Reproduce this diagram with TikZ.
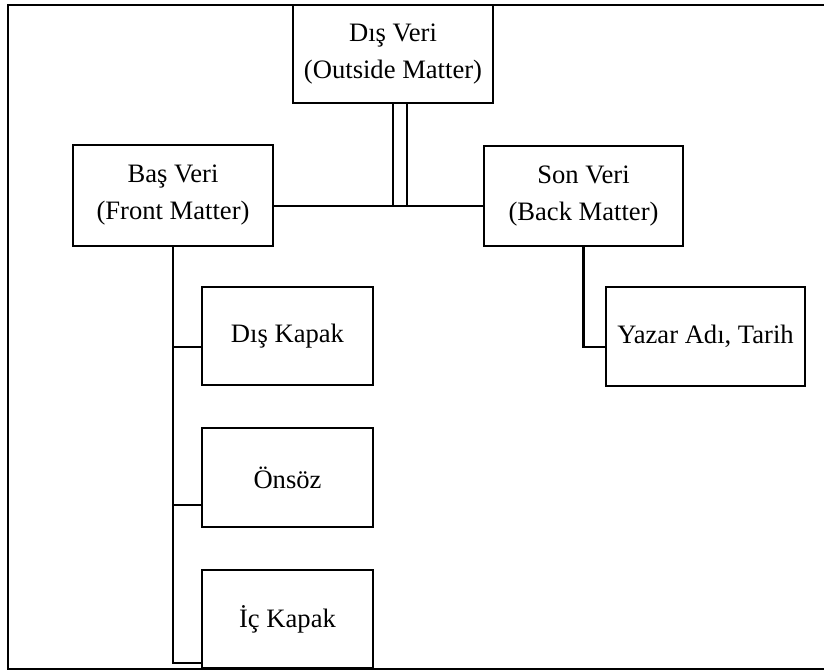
\documentclass[tikz,border=0pt]{standalone}
\usepackage{fontspec}
\setmainfont{Liberation Serif}
\begin{document}
\begin{tikzpicture}[x=1pt,y=-1pt,
  box/.style={draw, line width=2.4pt, rectangle, inner sep=0pt, align=center,
    font=\fontsize{26.6}{37}\selectfont},
  link/.style={line width=2.4pt},
  frame/.style={line width=1.8pt}]
\useasboundingbox (0,0) rectangle (824,671);

% outer frame (open on the right)
\draw[frame] (824,5) -- (8,5) -- (8,669) -- (824,669);

% main parts
\node[box, minimum width=200pt, minimum height=98pt] (outside) at (393,54) {Dış Veri\\(Outside Matter)};
\node[box, minimum width=200pt, minimum height=101pt] (front) at (173,195.5) {Baş Veri\\(Front Matter)};
\node[box, minimum width=199pt, minimum height=100pt] (back) at (583.5,196) {Son Veri\\(Back Matter)};

% front matter items
\node[box, minimum width=171pt, minimum height=98pt] (cover) at (287.5,336) {Dış Kapak};
\node[box, minimum width=171pt, minimum height=99pt] (preface) at (287.5,477.5) {Önsöz};
\node[box, minimum width=171pt, minimum height=98pt] (inner) at (287.5,619) {İç Kapak};

% back matter item
\node[box, minimum width=199pt, minimum height=99pt] (author) at (705.5,336.5) {Yazar Adı, Tarih};

% junction points
\coordinate (hub) at (400,206);
\coordinate (fc) at (173,347);
\coordinate (fp) at (173,505);
\coordinate (fi) at (173,663);
\coordinate (ba) at (583.5,347);

% double stem from the top box to the horizontal bar
\draw[link] (outside.south) -- (outside.south |- hub);
\draw[link] ([xshift=14pt]outside.south) -- ([xshift=14pt]outside.south |- hub);
\draw[link] (front.east |- hub) -- (back.west |- hub);

% front matter trunk and branches
\draw[link] (front.south) -- (fi) -- (inner.west |- fi);
\draw[link] (fc) -- (cover.west |- fc);
\draw[link] (fp) -- (preface.west |- fp);

% back matter branch
\draw[link] (back.south) -- (ba) -- (author.west |- ba);
\end{tikzpicture}
\end{document}
